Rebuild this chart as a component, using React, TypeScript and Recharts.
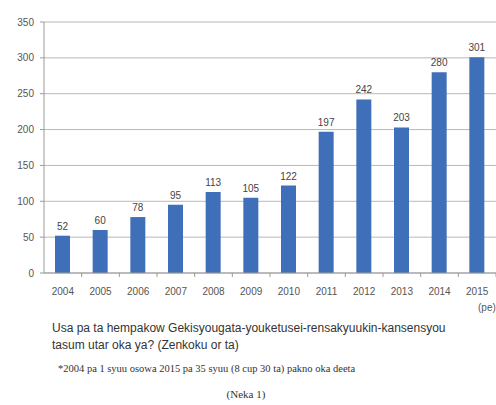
import React from "react";
import {
  BarChart,
  Bar,
  XAxis,
  YAxis,
  CartesianGrid,
  LabelList,
} from "recharts";

const years = [
  "2004", "2005", "2006", "2007", "2008", "2009",
  "2010", "2011", "2012", "2013", "2014", "2015",
];
const cases = [52, 60, 78, 95, 113, 105, 122, 197, 242, 203, 280, 301];
const yTicks = [0, 50, 100, 150, 200, 250, 300, 350];

const unitLabel = "(pe)";
const captionLines = [
  "Usa pa ta hempakow Gekisyougata-youketusei-rensakyuukin-kansensyou",
  "tasum utar oka ya? (Zenkoku or ta)",
];
const footnote =
  "*2004 pa 1 syuu osowa 2015 pa 35 syuu (8 cup 30 ta) pakno oka deeta";
const figureLabel = "(Neka 1)";

const data = years.map((year, i) => ({ year, count: cases[i] }));

const AXIS = "#9a9a9a";
const BAR = "#3f6fb8";

// category tick: year label + small mark at the right edge of the band
function YearTick(props: any) {
  const { x, y, payload } = props;
  const half = payload?.offset ?? 0;
  return (
    <g>
      <line x1={x + half} x2={x + half} y1={y} y2={y + 4} stroke={AXIS} />
      <text
        x={x}
        y={y + 22}
        textAnchor="middle"
        fontSize={10}
        fill="#555"
      >
        {payload.value}
      </text>
    </g>
  );
}

export default function App() {
  return (
    <div
      style={{
        position: "absolute",
        left: 0,
        top: 0,
        width: 496,
        height: 405,
        background: "#fff",
        fontFamily: "'Liberation Sans', Arial, sans-serif",
        overflow: "hidden",
      }}
    >
      <BarChart
        width={496}
        height={300}
        data={data}
        margin={{ top: 22, right: 0, left: 0, bottom: 9 }}
      >
        <CartesianGrid vertical={false} stroke="#b8b8b8" />
        <XAxis
          dataKey="year"
          height={18}
          axisLine={{ stroke: AXIS }}
          tickLine={false}
          tickSize={0}
          tickMargin={0}
          tick={<YearTick />}
          interval={0}
        />
        <YAxis
          width={44}
          domain={[0, 350]}
          ticks={yTicks}
          axisLine={{ stroke: AXIS }}
          tickLine={{ stroke: AXIS }}
          tickSize={4}
          tickMargin={6}
          tick={{ fontSize: 10, fill: "#555" }}
        />
        <Bar dataKey="count" fill={BAR} barSize={15} isAnimationActive={false}>
          <LabelList
            dataKey="count"
            position="top"
            offset={6}
            fontSize={10}
            fill="#444"
          />
        </Bar>
      </BarChart>

      <div
        style={{
          position: "absolute",
          left: 478,
          top: 302,
          fontSize: 10,
          color: "#555",
          whiteSpace: "nowrap",
        }}
      >
        {unitLabel}
      </div>

      <div
        style={{
          position: "absolute",
          left: 52,
          top: 320,
          fontSize: 12,
          lineHeight: "17px",
          color: "#333",
          whiteSpace: "nowrap",
        }}
      >
        {captionLines.map((line) => (
          <div key={line}>{line}</div>
        ))}
      </div>

      <div
        style={{
          position: "absolute",
          left: 58,
          top: 363,
          fontSize: 10.5,
          fontFamily: "'Liberation Serif', 'Times New Roman', serif",
          color: "#333",
          whiteSpace: "nowrap",
        }}
      >
        {footnote}
      </div>

      <div
        style={{
          position: "absolute",
          left: 0,
          width: 492,
          top: 388,
          textAlign: "center",
          fontSize: 11,
          fontFamily: "'Liberation Serif', 'Times New Roman', serif",
          color: "#333",
        }}
      >
        {figureLabel}
      </div>
    </div>
  );
}
